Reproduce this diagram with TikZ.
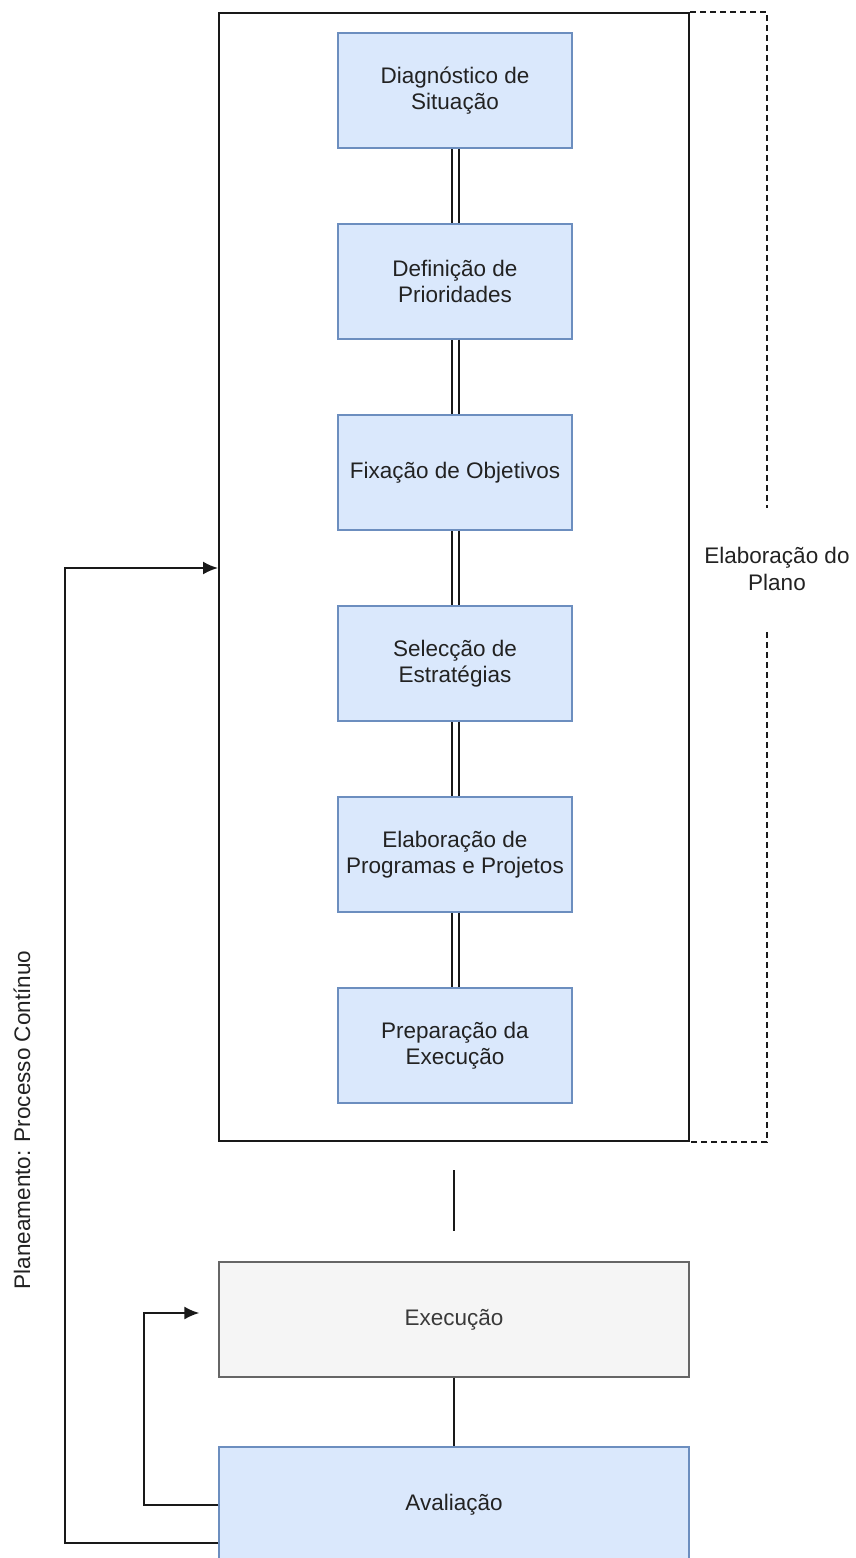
\documentclass[tikz,border=0pt]{standalone}
\usepackage{fontspec}
\setmainfont{Liberation Sans}
\usetikzlibrary{arrows.meta}
\definecolor{bfill}{HTML}{DAE8FC}
\definecolor{bdraw}{HTML}{6C8EBF}
\definecolor{gfill}{HTML}{F5F5F5}
\definecolor{gdraw}{HTML}{666666}
\definecolor{txt}{HTML}{222222}
\definecolor{txtg}{HTML}{3A3A3A}
\begin{document}
\begin{tikzpicture}[x=1pt,y=1pt,
  stepbox/.style={draw=bdraw, fill=bfill, line width=1.3pt, minimum width=234pt, minimum height=115pt, inner sep=0pt, align=center, text=txt, font=\fontsize{22.5}{26}\selectfont},
  widebox/.style={stepbox, minimum width=470pt},
  linkline/.style={double=white, double distance=5pt, line width=2pt, draw=black!90},
  conn/.style={line width=2pt, draw=black!90},
  arr/.style={conn, -{Latex[length=15pt,width=13pt]}},
  lbl/.style={text=txt, font=\fontsize{22.5}{27}\selectfont, align=center, inner sep=0pt},
  dashline/.style={line width=1.5pt, draw=black!90, dash pattern=on 6pt off 4pt}
]
\useasboundingbox (0,0) rectangle (855,-1558);
\clip (0,0) rectangle (855,-1558);
\fill[white] (0,0) rectangle (855,-1558);

% outer frame
\node[draw=black!90, line width=2pt, minimum width=470pt, minimum height=1128pt, inner sep=0pt] (outer) at (454,-577) {};

% steps
\node[stepbox] (b1) at (455,-90.5) {Diagnóstico de\\Situação};
\node[stepbox] (b2) at (455,-281.5) {Definição de\\Prioridades};
\node[stepbox] (b3) at (455,-472.5) {Fixação de Objetivos};
\node[stepbox] (b4) at (455,-663.5) {Selecção de\\Estratégias};
\node[stepbox] (b5) at (455,-854.5) {Elaboração de\\Programas e Projetos};
\node[stepbox] (b6) at (455,-1045.5) {Preparação da\\Execução};

\draw[linkline] (b1.south) -- (b2.north);
\draw[linkline] (b2.south) -- (b3.north);
\draw[linkline] (b3.south) -- (b4.north);
\draw[linkline] (b4.south) -- (b5.north);
\draw[linkline] (b5.south) -- (b6.north);

% dashed bracket and its label
\node[lbl] (lab) at (777,-569) {Elaboração do\\Plano};
\coordinate (dtop) at (767,-508);
\coordinate (dbot) at (767,-632);
\draw[dashline] (outer.north east) -- (outer.north east -| dtop) -- (dtop);
\draw[dashline] (dbot) -- (outer.south east -| dbot) -- (outer.south east);

% execution and evaluation
\node[widebox, draw=gdraw, fill=gfill, text=txtg] (exec) at (454,-1319.5) {Execução};
\node[widebox] (aval) at (454,-1504.5) {Avaliação};

\draw[conn] ([yshift=-28pt]outer.south) -- ([yshift=30pt]exec.north);
\draw[conn] (exec.south) -- (aval.north);

% feedback loops
\draw[arr] ([yshift=-38pt]aval.west) -- ++(-153,0) |- ([yshift=9pt]outer.west);
\draw[arr] (aval.west) -- ++(-74,0) |- ([xshift=-19pt,yshift=6.5pt]exec.west);

% side label
\node[lbl, rotate=90] (plan) at (22,-1120) {Planeamento: Processo Contínuo};
\end{tikzpicture}
\end{document}
